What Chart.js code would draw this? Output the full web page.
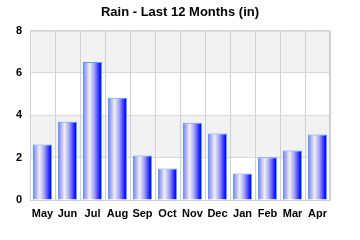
<!DOCTYPE html>
<html>
<head>
<meta charset="utf-8">
<script src="https://cdn.jsdelivr.net/npm/chart.js@4"></script>
<style>
  html, body { margin: 0; padding: 0; background: #fff; }
  #wrap { width: 360px; height: 240px; }
</style>
</head>
<body>
<div id="wrap"><canvas id="rain"></canvas></div>
<script>
// data
const months = ['May', 'Jun', 'Jul', 'Aug', 'Sep', 'Oct', 'Nov', 'Dec', 'Jan', 'Feb', 'Mar', 'Apr'];
const rainIn = [2.62, 3.70, 6.52, 4.83, 2.10, 1.49, 3.65, 3.14, 1.25, 2.02, 2.34, 3.09];
const yTicks = [0, 2, 4, 6, 8];

const BAR_FRAC = 0.76;
const FONT = 'Liberation Sans, Arial, sans-serif';

// alternating grey bands behind the bars
const bandsPlugin = {
    id: 'bands',
    beforeDraw(chart) {
        const { ctx, chartArea: a, scales: { y } } = chart;
        ctx.save();
        for (let i = 0; i < yTicks.length - 1; i++) {
            if ((yTicks.length - 2 - i) % 2 !== 0) continue;
            const top = y.getPixelForValue(yTicks[i + 1]);
            const bot = y.getPixelForValue(yTicks[i]);
            ctx.fillStyle = '#f2f2f2';
            ctx.fillRect(a.left, top, a.right - a.left, bot - top);
        }
        ctx.restore();
    }
};

// light frame round the plot area
const framePlugin = {
    id: 'frame',
    afterDatasetsDraw(chart) {
        const { ctx, chartArea: a } = chart;
        ctx.save();
        ctx.strokeStyle = '#d0d0d0';
        ctx.lineWidth = 1;
        ctx.strokeRect(a.left + 0.5, a.top + 0.5, a.right - a.left - 1, a.bottom - a.top);
        ctx.restore();
    }
};

function barGradient(context) {
    const chart = context.chart;
    const xs = chart.scales.x;
    if (!chart.chartArea || !xs) return '#6666ff';
    const cx = xs.getPixelForValue(context.dataIndex);
    const w = (xs.width / months.length) * BAR_FRAC;
    const g = chart.ctx.createLinearGradient(cx - w / 2, 0, cx + w / 2, 0);
    g.addColorStop(0, '#7a7af0');
    g.addColorStop(0.35, '#f0f0f4');
    g.addColorStop(0.6, '#a0a0f4');
    g.addColorStop(0.9, '#1010ff');
    g.addColorStop(1, '#0000ff');
    return g;
}

new Chart(document.getElementById('rain'), {
    type: 'bar',
    data: {
        labels: months,
        datasets: [{
            data: rainIn,
            backgroundColor: barGradient,
            borderColor: '#5aa0ff',
            borderWidth: 1,
            barPercentage: BAR_FRAC,
            categoryPercentage: 1
        }]
    },
    plugins: [bandsPlugin, framePlugin],
    options: {
        responsive: true,
        maintainAspectRatio: false,
        animation: false,
        layout: { padding: 0 },
        plugins: {
            legend: { display: false },
            tooltip: { enabled: false },
            title: {
                display: true,
                text: 'Rain - Last 12 Months (in)',
                color: '#000',
                font: { family: FONT, size: 13, weight: 'bold' },
                padding: { top: 5, bottom: 10 }
            }
        },
        scales: {
            x: {
                grid: { color: '#d0d0d0', drawTicks: false, offset: true },
                border: { color: '#d0d0d0' },
                ticks: {
                    color: '#000',
                    padding: 7,
                    font: { family: FONT, size: 11, weight: 'bold' },
                    maxRotation: 0,
                    autoSkip: false
                },
                afterFit(s) { s.height = 40; }
            },
            y: {
                min: 0,
                max: 8,
                afterBuildTicks(s) { s.ticks = yTicks.map(v => ({ value: v })); },
                grid: { color: '#d8d8d8', drawTicks: false },
                border: { color: '#d0d0d0' },
                ticks: {
                    color: '#000',
                    padding: 8,
                    font: { family: FONT, size: 11, weight: 'bold' }
                },
                afterFit(s) { s.width = 30; }
            },
            // empty right axis, only keeps the right margin
            yRight: {
                position: 'right',
                min: 0,
                max: 8,
                grid: { display: false },
                border: { display: false },
                ticks: { display: false },
                afterFit(s) { s.width = 30; }
            }
        }
    }
});
</script>
</body>
</html>
